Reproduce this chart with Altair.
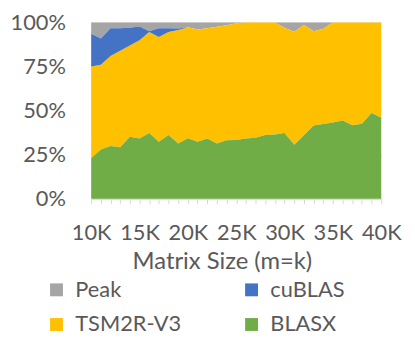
import altair as alt
import pandas as pd

# Matrix sizes (thousands)
sizes = list(range(10, 41))

# Share of stacked total (%) per series
blasx = [23.0, 27.9, 30.0, 29.2, 35.2, 34.2, 37.3, 32.4, 36.2, 31.3,
         34.3, 32.4, 34.2, 31.3, 33.2, 33.3, 34.2, 34.6, 36.2, 36.4,
         37.3, 30.6, 36.0, 41.5, 42.4, 43.3, 44.4, 41.7, 42.6, 48.7, 46.0]
tsm2r = [52.0, 48.2, 51.0, 54.8, 51.8, 55.8, 57.3, 59.4, 58.4, 64.5,
         63.0, 63.6, 62.5, 66.3, 65.2, 66.3, 65.8, 65.4, 63.8, 63.6,
         59.7, 64.2, 62.6, 53.5, 54.1, 56.7, 55.6, 58.3, 57.4, 51.3, 54.0]
cublas = [18.7, 14.9, 15.7, 12.7, 10.0, 7.8, 0.4, 4.9, 2.1, 0.8,
          0, 0, 0, 0, 0, 0, 0, 0, 0, 0,
          0, 0, 0, 0, 0, 0, 0, 0, 0, 0, 0]
peak = [6.3, 9.0, 3.3, 3.3, 3.0, 2.2, 5.0, 3.3, 3.3, 3.4,
        2.7, 4.0, 3.3, 2.4, 1.6, 0.4, 0, 0, 0, 0,
        3.0, 5.2, 1.4, 5.0, 3.5, 0, 0, 0, 0, 0, 0]

# legend order (filled column-wise): Peak, TSM2R-V3 | cuBLAS, BLASX
series_names = ["Peak", "TSM2R-V3", "cuBLAS", "BLASX"]
colors = ["#A5A5A5", "#FFC000", "#4472C4", "#70AD47"]
stack_rank = {"BLASX": 0, "TSM2R-V3": 1, "cuBLAS": 2, "Peak": 3}
series_values = {"Peak": peak, "TSM2R-V3": tsm2r, "cuBLAS": cublas, "BLASX": blasx}

rows = []
for name in series_names:
    for s, v in zip(sizes, series_values[name]):
        rows.append({"size": s, "series": name, "value": v, "rank": stack_rank[name]})
df = pd.DataFrame(rows)

FONT = "Lato"
TXT = "#595959"
nbsp = chr(160)

chart = alt.Chart(df).mark_area(interpolate="linear").encode(
    x=alt.X(
        "size:Q",
        scale=alt.Scale(domain=[10, 40], nice=False, zero=False),
        axis=alt.Axis(
            values=sizes,
            labelExpr="datum.value % 5 == 0 ? datum.value + 'K' : ''",
            title="Matrix Size (m=k)",
            grid=False,
            tickSize=5,
            tickColor="#D9D9D9",
            domainColor="#D9D9D9",
            labelPadding=19,
            labelFontSize=22,
            titleFontSize=24,
            titleX=132,
            titleY=70,
            titleBaseline="alphabetic",
            labelOverlap=False,
            labelFlush=False,
        ),
    ),
    y=alt.Y(
        "value:Q",
        stack="normalize",
        scale=alt.Scale(domain=[0, 1]),
        axis=alt.Axis(
            values=[0, 0.25, 0.5, 0.75, 1],
            format=".0%",
            title=None,
            domain=False,
            ticks=False,
            labelPadding=26,
            gridColor="#D9D9D9",
            labelFontSize=22,
        ),
    ),
    color=alt.Color(
        "series:N",
        scale=alt.Scale(domain=series_names, range=colors),
        legend=alt.Legend(
            title=None,
            orient="none",
            legendX=-46,
            legendY=259,
            columns=2,
            symbolType="square",
            symbolSize=169,
            symbolStrokeWidth=0,
            labelFontSize=22,
            columnPadding=60,
            rowPadding=13,
            labelOffset=8,
            labelExpr=f"datum.label == 'Peak' ? '{nbsp}Peak' : datum.label",
        ),
    ),
    order=alt.Order("rank:Q", sort="ascending"),
).properties(
    width=293, height=178,
    padding={"left": 2, "top": 2, "right": 5, "bottom": 5},
).configure_axis(
    labelFont=FONT, titleFont=FONT, labelColor=TXT, titleColor=TXT,
    titleFontWeight="normal",
).configure_legend(labelFont=FONT, labelColor=TXT).configure_view(stroke=None)

chart.save("out.html", embed_options={"renderer": "svg", "actions": False})
